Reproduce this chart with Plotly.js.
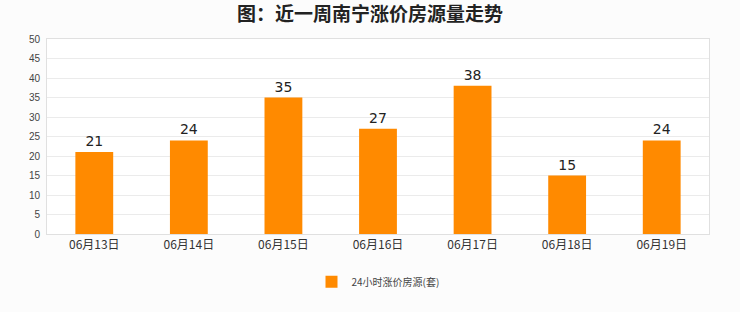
<!DOCTYPE html>
<html><head><meta charset="utf-8">
<script src="https://cdn.plot.ly/plotly-3.0.1.min.js"></script>
<style>body{margin:0;background:#fcfcfc;}#c{width:740px;height:312px;}</style>
</head><body><div id="c"></div>
<script>
var categories = ['06月13日','06月14日','06月15日','06月16日','06月17日','06月18日','06月19日'];
var values = [21, 24, 35, 27, 38, 15, 24];
var seriesName = '24小时涨价房源(套)';
var titleText = '图：近一周南宁涨价房源量走势';

var trace = {
  type: 'bar', x: categories, y: values, name: seriesName,
  text: values.map(String), textposition: 'outside', cliponaxis: false,
  textfont: {size: 14, color: '#222', family: 'DejaVu Sans, sans-serif'},
  marker: {color: '#ff8a00'}, width: 0.4, showlegend: true
};
var layout = {
  width: 740, height: 312,
  paper_bgcolor: '#fcfcfc', plot_bgcolor: '#ffffff',
  margin: {l: 47, r: 31, t: 39, b: 78},
  title: {text: titleText, x: 0.5, xanchor: 'center', y: 0.955, yanchor: 'middle',
    font: {size: 19, color: '#222', family: 'Noto Sans CJK SC, sans-serif', weight: 'bold'}},
  xaxis: {showgrid: false, showline: true, linecolor: '#e0e0e0', mirror: true, ticks: '',
    tickfont: {size: 12, color: '#333', family: 'Noto Sans CJK SC, sans-serif'}},
  yaxis: {range: [0, 50], dtick: 5, gridcolor: '#ebebeb', showline: true, linecolor: '#e0e0e0', mirror: true,
    zeroline: false, ticks: '', ticklabelstandoff: 4,
    tickfont: {size: 10, color: '#444', family: 'Liberation Sans Narrow, Liberation Sans, sans-serif'}},
  showlegend: true,
  legend: {orientation: 'h', x: 0.5, xanchor: 'center', y: -0.245, yanchor: 'middle', itemwidth: 30,
    font: {size: 10, color: '#444', family: 'Noto Sans CJK SC, sans-serif'}, bgcolor: 'rgba(0,0,0,0)'},
  bargap: 0.6
};
Plotly.newPlot('c', [trace], layout, {staticPlot: true});
</script></body></html>
